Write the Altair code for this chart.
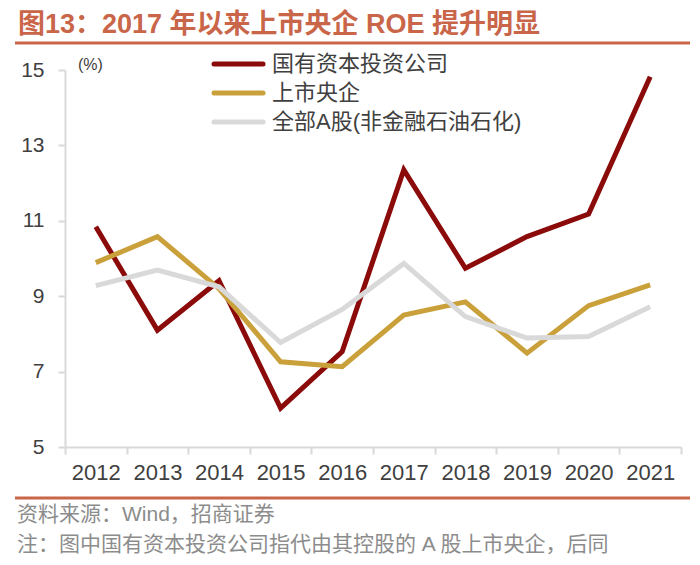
import altair as alt
import pandas as pd

years = [2012, 2013, 2014, 2015, 2016, 2017, 2018, 2019, 2020, 2021]
s_invest = [10.84, 8.10, 9.41, 6.03, 7.53, 12.35, 9.74, 10.58, 11.18, 14.82]
s_central = [9.89, 10.58, 9.20, 7.26, 7.13, 8.50, 8.85, 7.49, 8.75, 9.30]
s_all = [9.28, 9.69, 9.25, 7.77, 8.65, 9.87, 8.46, 7.89, 7.93, 8.72]
series_names = ["国有资本投资公司", "上市央企", "全部A股(非金融石油石化)"]
series_colors = ["#8B0A0A", "#C9A03A", "#D9D9D9"]
y_ticks = [5, 7, 9, 11, 13, 15]

title_text = "图13：2017 年以来上市央企 ROE 提升明显"
source_text = "资料来源：Wind，招商证券"
note_text = "注：图中国有资本投资公司指代由其控股的 A 股上市央企，后同"
unit_text = "(%)"

rows = []
for name, vals in zip(series_names, [s_invest, s_central, s_all]):
    for y, v in zip(years, vals):
        rows.append({"year": y, "value": v, "series": name})
df = pd.DataFrame(rows)

W, H = 616, 377
CJK = "Noto Sans CJK SC"
LAT = "'Liberation Sans', 'Noto Sans CJK SC'"
ACCENT = "#C96649"

color = alt.Color(
    "series:N",
    scale=alt.Scale(domain=series_names, range=series_colors),
    legend=None,
)

x_ticks = [2011.5 + i for i in range(11)]

base = alt.Chart(df)
lines = []
for name in series_names:
    lines.append(
        base.transform_filter(alt.datum.series == name)
        .mark_line(strokeWidth=5, strokeCap="butt", strokeJoin="miter")
        .encode(
            x=alt.X(
                "year:Q",
                scale=alt.Scale(domain=[2011.5, 2021.5], nice=False, zero=False),
                axis=alt.Axis(
                    values=x_ticks,
                    labelExpr="datum.value < 2021 ? format(datum.value + 0.5, 'd') : ''",
                    labelOffset=30.8,
                    labelFlush=False,
                    labelOverlap=False,
                    labelBound=False,
                    title=None,
                    grid=False,
                    domainColor="#D9D9D9",
                    domainWidth=2,
                    tickColor="#D9D9D9",
                    tickWidth=2,
                    tickSize=7,
                    labelPadding=8,
                    labelFont="Liberation Sans",
                    labelFontSize=22,
                    labelColor="#404040",
                ),
            ),
            y=alt.Y(
                "value:Q",
                scale=alt.Scale(domain=[5, 15], nice=False, zero=False),
                axis=alt.Axis(
                    values=y_ticks,
                    title=None,
                    grid=False,
                    domainColor="#D9D9D9",
                    domainWidth=2,
                    tickColor="#D9D9D9",
                    tickWidth=2,
                    tickSize=7,
                    labelPadding=14,
                    labelFont="Liberation Sans",
                    labelFontSize=21,
                    labelColor="#404040",
                ),
            ),
            color=color,
        )
    )

def text_layer(t, x, y, size, col, font, weight="normal", align="left"):
    return (
        alt.Chart(pd.DataFrame({"t": [t]}))
        .mark_text(align=align, baseline="middle", fontSize=size, font=font,
                   fontWeight=weight, color=col)
        .encode(text="t:N", x=alt.value(x), y=alt.value(y))
    )

# legend (built from the series names and colours)
legend_layers = []
for i, (name, col) in enumerate(zip(series_names, series_colors)):
    ly = -6 + i * 29
    legend_layers.append(
        alt.Chart(pd.DataFrame({"s": [name]}))
        .mark_rule(color=col, strokeWidth=5, strokeCap="round")
        .encode(x=alt.value(149), x2=alt.value(198), y=alt.value(ly))
    )
    legend_layers.append(text_layer(name, 207, ly, 22, "#404040", LAT))

title = text_layer(title_text, -47, -45, 27, ACCENT, LAT, weight="bold")
unit = text_layer(unit_text, 13, -5, 16, "#404040", LAT)
source = text_layer(source_text, -48, 445, 21, "#8C8C8C", LAT)
note = text_layer(note_text, -48, 475, 21, "#8C8C8C", LAT)

def hrule(y):
    return (
        alt.Chart(pd.DataFrame({"a": [0]}))
        .mark_rule(color=ACCENT, strokeWidth=3)
        .encode(x=alt.value(-50), x2=alt.value(625), y=alt.value(y))
    )

chart = (
    alt.layer(*lines, *legend_layers, hrule(-27), hrule(428), title, unit, source, note)
    .properties(
        width=W,
        height=H,
        padding={"left": 57, "top": 62, "right": 11, "bottom": 110},
        autosize=alt.AutoSizeParams(type="none"),
    )
    .configure_view(stroke=None)
)

chart.save("out.html", embed_options={"renderer": "svg", "actions": False})
